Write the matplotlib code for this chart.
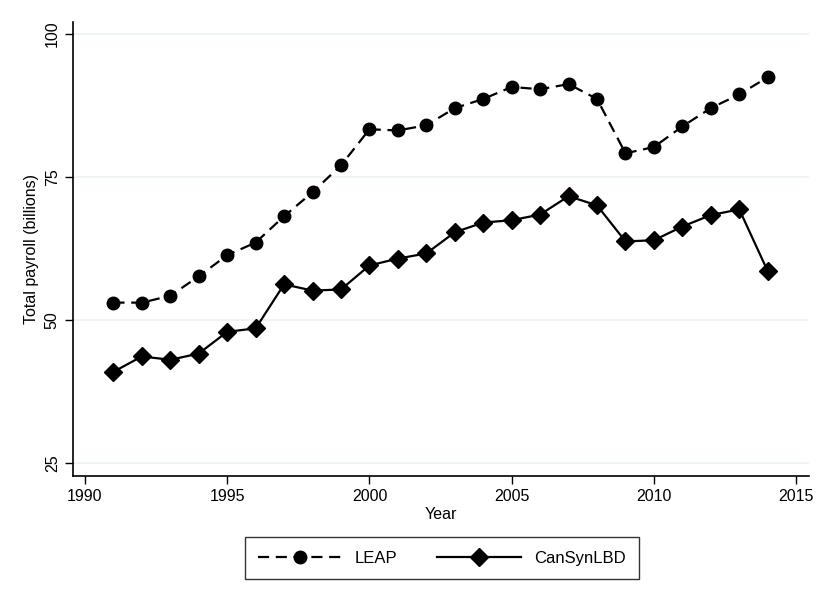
import matplotlib
matplotlib.use('Agg')
import matplotlib.pyplot as plt

plt.rcParams['font.family'] = ['Liberation Sans', 'DejaVu Sans']

years = list(range(1991, 2015))
leap = [53.0, 53.0, 54.2, 57.6, 61.3, 63.5, 68.1, 72.3, 77.0, 83.3, 83.1, 84.0,
        87.0, 88.6, 90.7, 90.3, 91.2, 88.6, 79.1, 80.2, 83.8, 87.0, 89.4, 92.4]
cansyn = [40.9, 43.6, 43.0, 44.1, 47.9, 48.5, 56.2, 55.1, 55.3, 59.5, 60.7, 61.6,
          65.3, 67.0, 67.4, 68.4, 71.6, 70.0, 63.7, 63.9, 66.3, 68.3, 69.3, 58.5]
yticks = [25, 50, 75, 100]
xticks = [1990, 1995, 2000, 2005, 2010, 2015]

fig = plt.figure(figsize=(8.3, 6.04), dpi=100)
ax = fig.add_axes([0.088, 0.212, 0.887, 0.752])

ax.plot(years, leap, color='black', linestyle=(0, (5, 3)), linewidth=1.6,
        marker='o', markersize=9, label='LEAP')
ax.plot(years, cansyn, color='black', linestyle='-', linewidth=1.6,
        marker='D', markersize=9, label='CanSynLBD')

ax.set_xlim(1989.58, 2015.46)
ax.set_ylim(22.7, 102.1)
ax.set_xticks(xticks)
ax.set_yticks(yticks)
ax.set_yticklabels([str(t) for t in yticks], rotation=90, va='center')
ax.grid(axis='y', color='#eaf2f3', linewidth=1.2)
ax.set_axisbelow(True)
ax.tick_params(labelsize=11.5, length=6, width=1)
for s in ['top', 'right']:
    ax.spines[s].set_visible(False)
ax.spines['left'].set_linewidth(1.2)
ax.spines['bottom'].set_linewidth(1.2)

ax.set_xlabel('Year', fontsize=11.5, labelpad=2)
ax.set_ylabel('Total payroll (billions)', fontsize=11.5)

leg = fig.legend(handles=ax.get_lines(), loc='upper center',
                 bbox_to_anchor=(0.5325, 0.124), ncol=2,
                 frameon=True, fancybox=False, edgecolor='black', fontsize=12,
                 handlelength=5, columnspacing=2.4, borderpad=0.8)
leg.get_frame().set_linewidth(1.0)

fig.savefig('out.png', dpi=100)
